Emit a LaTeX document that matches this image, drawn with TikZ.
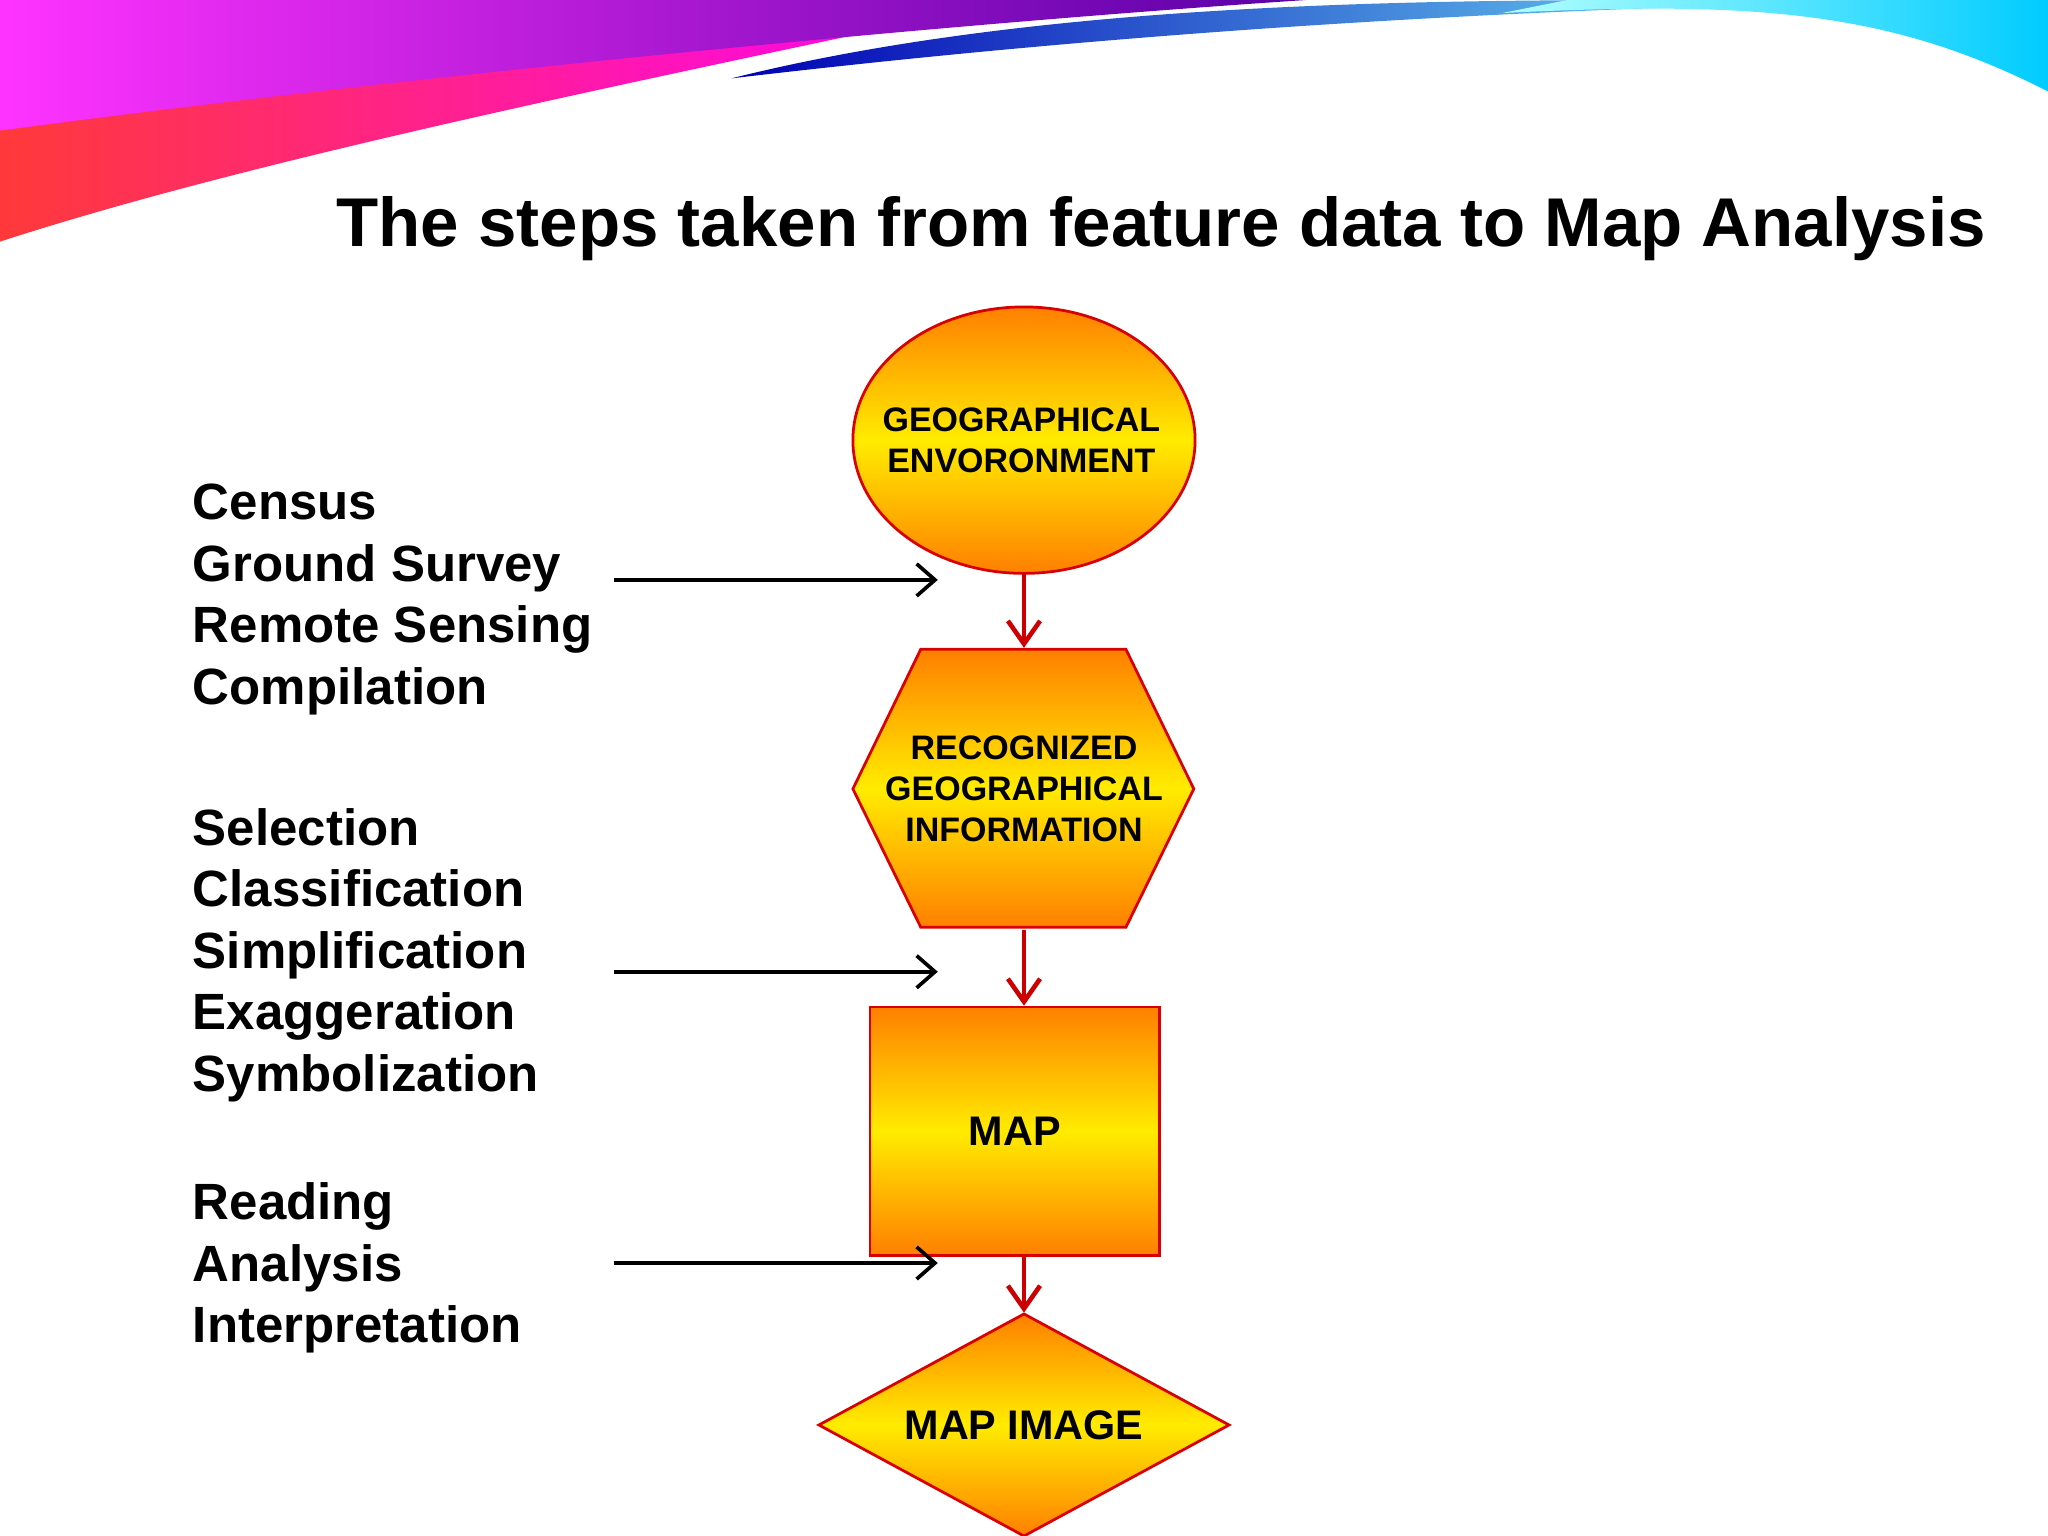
\documentclass[tikz,border=0pt]{standalone}
\usepackage{fontspec}
\setmainfont{Liberation Sans}
\usetikzlibrary{arrows.meta}
\begin{document}
\begin{tikzpicture}[x=0.01cm,y=-0.01cm,
  shp/.style={draw=red!85!black,line width=0.6pt,top color=orange,bottom color=orange,middle color=yellow!85!orange},
  lbl/.style={font=\bfseries\fontsize{7.4pt}{9pt}\selectfont,align=center},
  big/.style={font=\bfseries\fontsize{9pt}{11pt}\selectfont},
  side/.style={anchor=north west,font=\bfseries\fontsize{11.1pt}{13.4pt}\selectfont,align=left,inner sep=0},
  redarr/.style={-{Straight Barb[length=5pt,width=7pt]},draw=red!80!black,line width=1pt},
  blkarr/.style={-{Straight Barb[length=4pt,width=7pt]},line width=0.8pt}]
\useasboundingbox (0,0) rectangle (1568,1176);
% decorative swooshes
\shade[left color=red!70!pink,right color=magenta] (0,0) -- (780,0) .. controls (500,60) and (200,120) .. (0,185) -- cycle;
\shade[left color=magenta!80,right color=violet!70!blue] (0,0) -- (1000,0) .. controls (700,20) and (300,60) .. (0,100) -- cycle;
\shade[left color=blue!70!black,right color=cyan!50] (560,60) .. controls (800,0) and (1100,0) .. (1300,0) -- (1500,0) .. controls (1200,5) and (900,20) .. (560,60) -- cycle;
\shade[left color=cyan!30,right color=cyan!80!blue] (1150,10) .. controls (1350,0) and (1450,10) .. (1568,70) -- (1568,0) -- (1200,0) -- cycle;
% title
\node[anchor=west,inner sep=0] (title) at (257,175) {\resizebox{12.62cm}{!}{\bfseries\fontsize{16pt}{19pt}\selectfont The steps taken from feature data to Map Analysis}};
% shapes
\draw[shp] (784,337) ellipse [x radius=131,y radius=102];
\node[lbl] (geo) at (782,337) {GEOGRAPHICAL\\ ENVORONMENT};
\draw[shp] (705,497) -- (862,497) -- (914,604) -- (862,710) -- (705,710) -- (653,604) -- cycle;
\node[lbl] (rec) at (784,604) {RECOGNIZED\\GEOGRAPHICAL\\INFORMATION};
\draw[shp] (666,771) rectangle (888,961);
\node[lbl,big] (map) at (777,866) {MAP};
\draw[shp] (627,1091) -- (784,1006) -- (941,1091) -- (784,1176) -- cycle;
\node[lbl,big] (img) at (784,1091) {MAP IMAGE};
\coordinate (e1) at (784,439); \coordinate (h1) at (784,496);
\coordinate (h2) at (784,712); \coordinate (r1) at (784,770);
\coordinate (r2) at (784,962); \coordinate (d1) at (784,1005);
\draw[redarr] (e1) -- (h1);
\draw[redarr] (h2) -- (r1);
\draw[redarr] (r2) -- (d1);
% side texts
\node[side] (t1) at (147,370) {Census\\Ground Survey\\Remote Sensing\\Compilation};
\node[side] (t2) at (147,618) {Selection\\Classification\\Simplification\\Exaggeration\\Symbolization};
\node[side] (t3) at (147,905) {Reading\\Analysis\\Interpretation};
\coordinate (a1) at (470,444); \coordinate (b1) at (718,444);
\coordinate (a2) at (470,744); \coordinate (b2) at (718,744);
\coordinate (a3) at (470,967); \coordinate (b3) at (718,967);
\draw[blkarr] (a1) -- (b1);
\draw[blkarr] (a2) -- (b2);
\draw[blkarr] (a3) -- (b3);
\end{tikzpicture}
\end{document}
